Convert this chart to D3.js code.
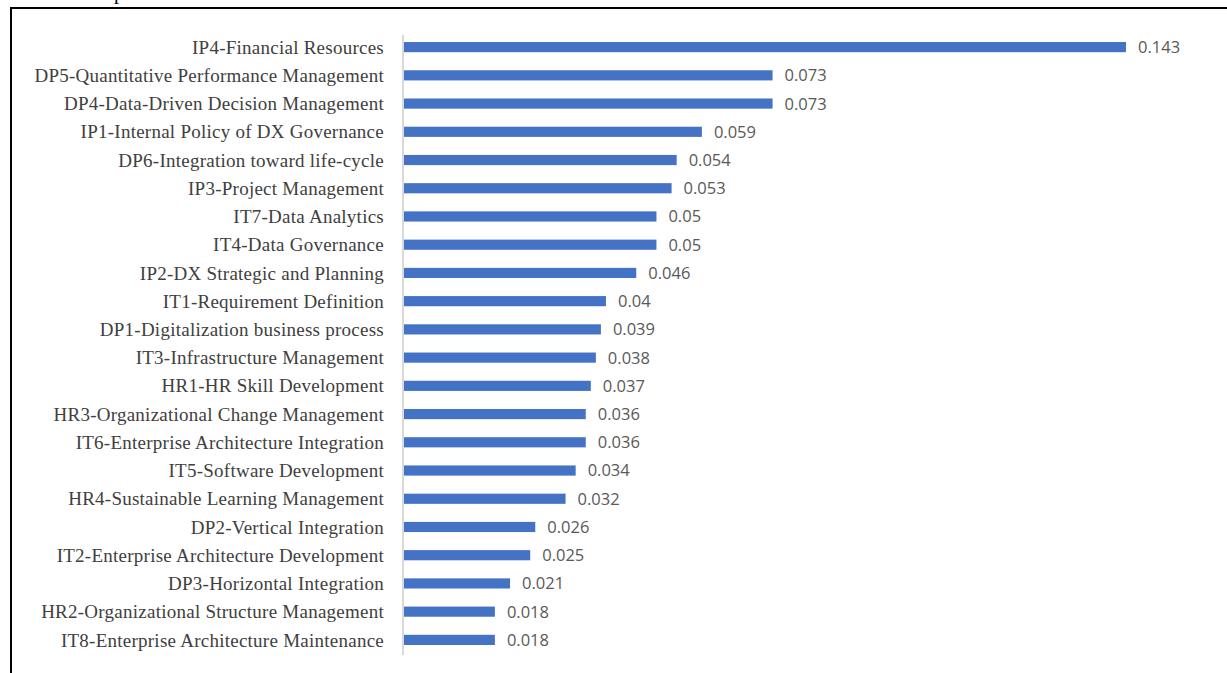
<!DOCTYPE html>
<html>
<head>
<meta charset="utf-8">
<script src="https://cdn.jsdelivr.net/npm/d3@7"></script>
<style>
    body { margin: 0; background: #fff; }
    .cat-label { font-family: "Liberation Serif", "Times New Roman", serif; font-size: 19px; letter-spacing: 0.25px; fill: #404040; }
    .val-label { font-family: "Open Sans", "Liberation Sans", sans-serif; font-size: 16.5px; fill: #595959; }
</style>
</head>
<body>
<div id="chart"></div>
<script>
const categories = [
    "IP4-Financial Resources",
    "DP5-Quantitative Performance Management",
    "DP4-Data-Driven Decision Management",
    "IP1-Internal Policy of DX Governance",
    "DP6-Integration toward life-cycle",
    "IP3-Project Management",
    "IT7-Data Analytics",
    "IT4-Data Governance",
    "IP2-DX Strategic and Planning",
    "IT1-Requirement Definition",
    "DP1-Digitalization business process",
    "IT3-Infrastructure Management",
    "HR1-HR Skill Development",
    "HR3-Organizational Change Management",
    "IT6-Enterprise Architecture Integration",
    "IT5-Software Development",
    "HR4-Sustainable Learning Management",
    "DP2-Vertical Integration",
    "IT2-Enterprise Architecture Development",
    "DP3-Horizontal Integration",
    "HR2-Organizational Structure Management",
    "IT8-Enterprise Architecture Maintenance"
];

const weights = [0.143, 0.073, 0.073, 0.059, 0.054, 0.053, 0.05, 0.05, 0.046, 0.04, 0.039,
    0.038, 0.037, 0.036, 0.036, 0.034, 0.032, 0.026, 0.025, 0.021, 0.018, 0.018];

const width = 1227;
const height = 673;

const svg = d3.select('#chart').append('svg')
    .attr('width', width)
    .attr('height', height);

// bit of a caption cut off above the frame
svg.append('text')
    .attr('x', 114)
    .attr('y', -1)
    .style('font-family', '"Liberation Serif", serif')
    .style('font-size', '20px')
    .text('p');

// frame around the figure (bottom and right are outside the shot)
svg.append('path')
    .attr('d', `M11,${height + 5} L11,8 L${width + 5},8`)
    .attr('fill', 'none')
    .attr('stroke', '#000')
    .attr('stroke-width', 2);

const x = d3.scaleLinear()
    .domain([0, 0.143])
    .range([404, 1126]);

const y = d3.scaleBand()
    .domain(categories)
    .range([33, 654])
    .paddingInner(0.64)
    .paddingOuter(0.32);

svg.append('line')
    .attr('x1', 403).attr('x2', 403)
    .attr('y1', 35).attr('y2', 655)
    .attr('stroke', '#d9d9d9')
    .attr('stroke-width', 2);

const rows = categories.map((c, i) => ({ name: c, value: weights[i] }));

svg.selectAll('.bar')
    .data(rows)
    .enter().append('rect')
    .attr('class', 'bar')
    .attr('x', x(0))
    .attr('y', d => y(d.name))
    .attr('width', d => x(d.value) - x(0))
    .attr('height', y.bandwidth())
    .attr('fill', '#4472c4');

svg.selectAll('.cat-label')
    .data(rows)
    .enter().append('text')
    .attr('class', 'cat-label')
    .attr('x', 384)
    .attr('y', d => y(d.name) + y.bandwidth() / 2)
    .attr('dy', '0.35em')
    .attr('text-anchor', 'end')
    .text(d => d.name);

svg.selectAll('.val-label')
    .data(rows)
    .enter().append('text')
    .attr('class', 'val-label')
    .attr('x', d => x(d.value) + 12)
    .attr('y', d => y(d.name) + y.bandwidth() / 2)
    .attr('dy', '0.36em')
    .text(d => d.value);
</script>
</body>
</html>
